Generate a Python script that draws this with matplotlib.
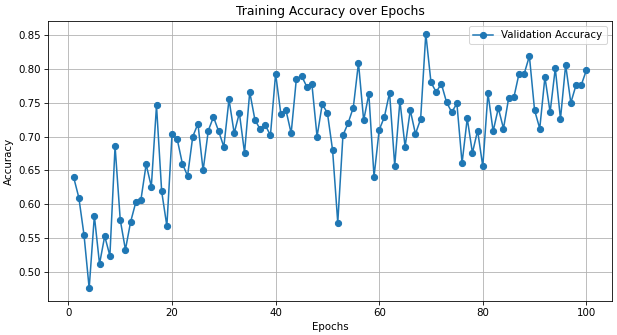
import matplotlib
matplotlib.use("Agg")
import matplotlib.pyplot as plt
import numpy as np

epochs = list(range(1, 101))
val_acc = [
    0.640, 0.610, 0.555, 0.476, 0.583, 0.512, 0.553, 0.524, 0.686, 0.577,
    0.533, 0.574, 0.603, 0.607, 0.659, 0.626, 0.746, 0.619, 0.568, 0.704,
    0.696, 0.660, 0.642, 0.700, 0.719, 0.650, 0.709, 0.729, 0.708, 0.685,
    0.755, 0.705, 0.735, 0.676, 0.766, 0.725, 0.711, 0.717, 0.702, 0.793,
    0.734, 0.739, 0.705, 0.785, 0.790, 0.774, 0.778, 0.700, 0.748, 0.735,
    0.680, 0.573, 0.702, 0.720, 0.743, 0.809, 0.724, 0.763, 0.641, 0.710,
    0.729, 0.765, 0.657, 0.753, 0.685, 0.739, 0.704, 0.726, 0.852, 0.780,
    0.766, 0.778, 0.751, 0.736, 0.749, 0.661, 0.727, 0.676, 0.709, 0.656,
    0.764, 0.708, 0.742, 0.712, 0.757, 0.758, 0.793, 0.793, 0.819, 0.739,
    0.712, 0.788, 0.736, 0.801, 0.726, 0.806, 0.750, 0.776, 0.776, 0.798,
]

DPI = 74
fig = plt.figure(figsize=(617/DPI, 335/DPI), dpi=DPI)
ax = fig.add_axes([48/617, 1-301/335, (612-48)/617, (301-21)/335])
ax.plot(epochs, val_acc, marker='o', label='Validation Accuracy')
ax.set_title('Training Accuracy over Epochs')
ax.set_xlabel('Epochs')
ax.set_ylabel('Accuracy')
ax.legend(loc='upper right')
ax.grid(True)
fig.savefig('out.png', dpi=DPI)
